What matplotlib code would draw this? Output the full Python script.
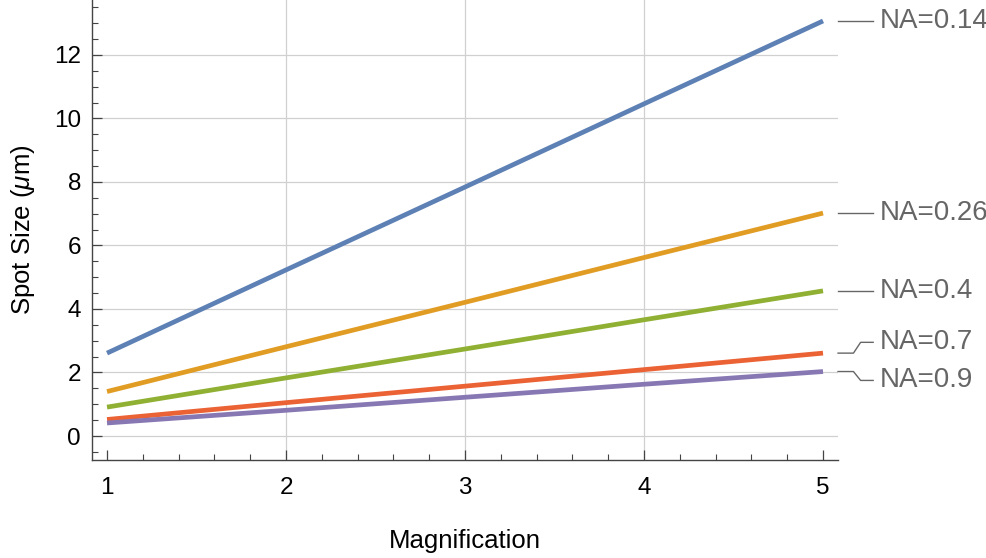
import matplotlib
matplotlib.use("Agg")
import matplotlib.pyplot as plt
from matplotlib.ticker import MultipleLocator

plt.rcParams['font.family'] = ['Liberation Sans', 'DejaVu Sans']
plt.rcParams['mathtext.fontset'] = 'custom'
plt.rcParams['mathtext.it'] = 'Liberation Sans:italic'
plt.rcParams['mathtext.rm'] = 'Liberation Sans'

# data
magnification = [1, 2, 3, 4, 5]
na_labels = ["NA=0.14", "NA=0.26", "NA=0.4", "NA=0.7", "NA=0.9"]
spot_014 = [2.61, 5.23, 7.84, 10.46, 13.07]
spot_026 = [1.40, 2.81, 4.21, 5.62, 7.02]
spot_04 = [0.91, 1.83, 2.74, 3.66, 4.57]
spot_07 = [0.52, 1.05, 1.57, 2.09, 2.61]
spot_09 = [0.41, 0.81, 1.22, 1.63, 2.03]
series = [spot_014, spot_026, spot_04, spot_07, spot_09]
colors = ["#5E81B5", "#E19C24", "#8FB032", "#EB6235", "#8778B3"]

fig = plt.figure(figsize=(9.87, 5.58), dpi=100)
ax = fig.add_axes([0.0932, 0.1756, 0.7559, 0.8244])

ax.set_xlim(0.916, 5.084)
ax.set_ylim(-0.756, 13.73)

# gridlines like Mathematica
for gx in [2, 3, 4]:
    ax.axvline(gx, color="#d0d0d0", lw=0.9, zorder=0)
for gy in range(0, 13, 2):
    ax.axhline(gy, color="#d0d0d0", lw=0.9, zorder=0)

for ys, c in zip(series, colors):
    ax.plot(magnification, ys, color=c, lw=3.4, solid_capstyle="butt", zorder=3)

# labels with leader lines at the right
label_y = {"NA=0.14": None, "NA=0.26": None, "NA=0.4": None, "NA=0.7": 2.95, "NA=0.9": 1.75}
for lab, ys in zip(na_labels, series):
    yend = ys[-1]
    ty = label_y[lab] if label_y[lab] is not None else yend
    x0, x1, x2 = 5.084, 5.17, 5.28
    if ty == yend:
        ax.plot([x0, x2], [yend, yend], color="#666666", lw=1.0, clip_on=False)
    else:
        ax.plot([x0, x1, x1 + 0.04, x2], [yend, yend, ty, ty], color="#666666", lw=1.0, clip_on=False)
    ax.text(x2 + 0.035, ty, lab, color="#666666", fontsize=20, va="center", ha="left", clip_on=False)

ax.xaxis.set_major_locator(MultipleLocator(1))
ax.xaxis.set_minor_locator(MultipleLocator(0.2))
ax.yaxis.set_major_locator(MultipleLocator(2))
ax.yaxis.set_minor_locator(MultipleLocator(0.5))
ax.tick_params(which="major", direction="in", length=7, width=0.9, labelsize=17.5, color="#444444")
ax.tick_params(axis="x", which="major", pad=12)
ax.tick_params(axis="y", which="major", pad=8)
ax.tick_params(which="minor", direction="in", length=4, width=0.8, color="#444444")
ax.tick_params(axis="x", top=False)
ax.tick_params(axis="y", right=False)

for s in ["top", "right"]:
    ax.spines[s].set_visible(False)
for s in ["left", "bottom"]:
    ax.spines[s].set_color("#444444")
    ax.spines[s].set_linewidth(1.0)

ax.set_xlabel("Magnification", fontsize=18.5, labelpad=22)
ax.set_ylabel("Spot Size ($\\mu$m)", fontsize=18.5, labelpad=12)

fig.savefig("out.png", dpi=100)
